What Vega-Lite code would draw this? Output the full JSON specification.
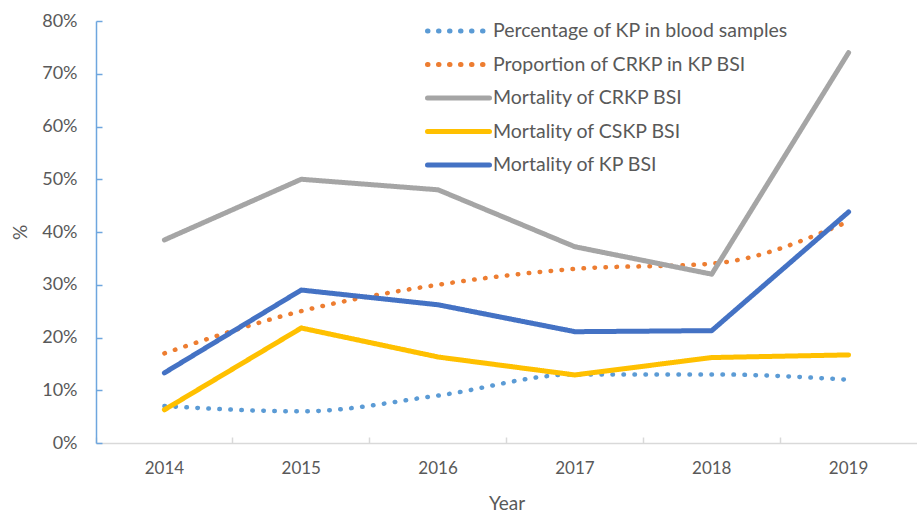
{
  "$schema": "https://vega.github.io/schema/vega-lite/v6.json",
  "width": 821,
  "height": 422,
  "autosize": {"type": "none"},
  "padding": {"left": 96, "top": 21, "right": 0, "bottom": 70},
  "background": "white",
  "config": {
    "view": {"stroke": null},
    "font": "Lato",
    "axis": {"labelFont": "Lato", "titleFont": "Lato", "labelColor": "#595959", "titleColor": "#595959", "grid": false}
  },
  "data": {
    "values": [
      {"year": "2014", "series": "Percentage of KP in blood samples", "value": 0.07},
      {"year": "2015", "series": "Percentage of KP in blood samples", "value": 0.06},
      {"year": "2016", "series": "Percentage of KP in blood samples", "value": 0.09},
      {"year": "2017", "series": "Percentage of KP in blood samples", "value": 0.13},
      {"year": "2018", "series": "Percentage of KP in blood samples", "value": 0.13},
      {"year": "2019", "series": "Percentage of KP in blood samples", "value": 0.12},
      {"year": "2014", "series": "Proportion of CRKP in KP BSI", "value": 0.17},
      {"year": "2015", "series": "Proportion of CRKP in KP BSI", "value": 0.25},
      {"year": "2016", "series": "Proportion of CRKP in KP BSI", "value": 0.30},
      {"year": "2017", "series": "Proportion of CRKP in KP BSI", "value": 0.33},
      {"year": "2018", "series": "Proportion of CRKP in KP BSI", "value": 0.34},
      {"year": "2019", "series": "Proportion of CRKP in KP BSI", "value": 0.42},
      {"year": "2014", "series": "Mortality of CRKP BSI", "value": 0.385},
      {"year": "2015", "series": "Mortality of CRKP BSI", "value": 0.50},
      {"year": "2016", "series": "Mortality of CRKP BSI", "value": 0.48},
      {"year": "2017", "series": "Mortality of CRKP BSI", "value": 0.372},
      {"year": "2018", "series": "Mortality of CRKP BSI", "value": 0.32},
      {"year": "2019", "series": "Mortality of CRKP BSI", "value": 0.74},
      {"year": "2014", "series": "Mortality of CSKP BSI", "value": 0.063},
      {"year": "2015", "series": "Mortality of CSKP BSI", "value": 0.218},
      {"year": "2016", "series": "Mortality of CSKP BSI", "value": 0.163},
      {"year": "2017", "series": "Mortality of CSKP BSI", "value": 0.129},
      {"year": "2018", "series": "Mortality of CSKP BSI", "value": 0.162},
      {"year": "2019", "series": "Mortality of CSKP BSI", "value": 0.167},
      {"year": "2014", "series": "Mortality of KP BSI", "value": 0.133},
      {"year": "2015", "series": "Mortality of KP BSI", "value": 0.29},
      {"year": "2016", "series": "Mortality of KP BSI", "value": 0.262},
      {"year": "2017", "series": "Mortality of KP BSI", "value": 0.211},
      {"year": "2018", "series": "Mortality of KP BSI", "value": 0.213},
      {"year": "2019", "series": "Mortality of KP BSI", "value": 0.438}
    ]
  },
  "encoding": {
    "x": {
      "field": "year", "type": "ordinal", "bandPosition": 0.5,
      "scale": {"type": "band", "paddingInner": 0, "paddingOuter": 0},
      "axis": {
        "title": "Year", "titleFontSize": 19, "titleFontWeight": "normal", "titlePadding": 18,
        "labelAngle": 0, "labelFontSize": 17, "labelPadding": 23,
        "bandPosition": 0,
        "domainColor": "#D9D9D9", "domainWidth": 1.5,
        "tickColor": "#D9D9D9", "tickSize": -6, "tickWidth": 1.5
      }
    },
    "y": {
      "field": "value", "type": "quantitative",
      "scale": {"domain": [0, 0.8], "nice": false},
      "axis": {
        "title": "%", "titleFontSize": 19, "titleFontWeight": "normal", "titlePadding": 11,
        "format": ".0%", "values": [0, 0.1, 0.2, 0.3, 0.4, 0.5, 0.6, 0.7, 0.8], "labelOverlap": false,
        "labelFontSize": 18, "labelPadding": 25,
        "domainColor": "#6EA6DE", "domainWidth": 1.5,
        "tickColor": "#6EA6DE", "tickSize": -6, "tickWidth": 1.5
      }
    },
    "color": {
      "field": "series", "type": "nominal",
      "scale": {
        "domain": ["Percentage of KP in blood samples", "Proportion of CRKP in KP BSI", "Mortality of CRKP BSI", "Mortality of CSKP BSI", "Mortality of KP BSI"],
        "range": ["#5B9BD5", "#ED7D31", "#A5A5A5", "#FFC000", "#4472C4"]
      },
      "legend": {
        "title": null, "orient": "none", "legendX": 329, "legendY": 0,
        "symbolType": "stroke", "symbolSize": 3844, "symbolStrokeWidth": 5,
        "labelFontSize": 19.5, "labelColor": "#595959", "labelFont": "Lato", "labelOffset": 1,
        "clipHeight": 20, "rowPadding": 13.5, "labelLimit": 400,
        "encode": {"symbols": {"update": {"strokeCap": {"value": "round"}}}}
      }
    },
    "strokeDash": {
      "field": "series", "type": "nominal",
      "scale": {
        "domain": ["Percentage of KP in blood samples", "Proportion of CRKP in KP BSI", "Mortality of CRKP BSI", "Mortality of CSKP BSI", "Mortality of KP BSI"],
        "range": [[0.5, 10.5], [0.5, 10.5], [1, 0], [1, 0], [1, 0]]
      },
      "legend": null
    }
  },
  "layer": [
    {
      "transform": [{"filter": "indexof(datum.series, 'Mortality') < 0"}],
      "mark": {"type": "line", "interpolate": "monotone", "strokeWidth": 4.5, "strokeCap": "round"}
    },
    {
      "transform": [{"filter": "indexof(datum.series, 'Mortality') >= 0"}],
      "mark": {"type": "line", "strokeWidth": 5, "strokeCap": "round", "strokeJoin": "round"}
    }
  ]
}
